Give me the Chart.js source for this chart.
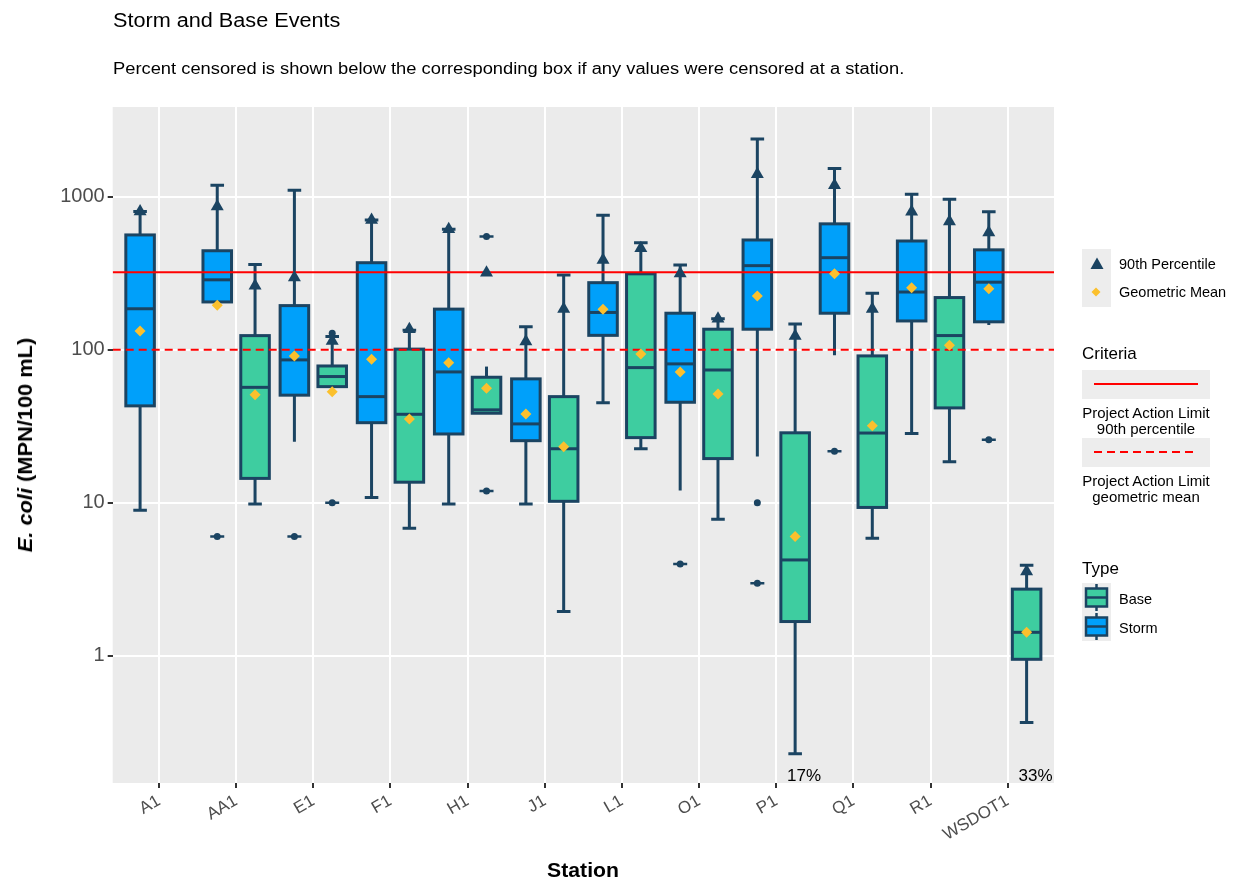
<!DOCTYPE html>
<html>
<head>
<meta charset="utf-8">
<script src="https://cdn.jsdelivr.net/npm/chart.js@4.4.0/dist/chart.umd.min.js"></script>
<style>
  body { margin: 0; background: #fff; font-family: "Liberation Sans", Arial, sans-serif; color: #000; }
  #wrap { position: relative; width: 1235px; height: 882px; overflow: hidden; }
  #chart { position: absolute; left: 0; top: 0; }
  .lbl { position: absolute; white-space: nowrap; line-height: 1; }
  .key { position: absolute; background: #EDEDED; }
  .glyphs { position: absolute; left: 0; top: 0; pointer-events: none; }
</style>
</head>
<body>
<div id="wrap">
  <canvas id="chart" width="1235" height="882"></canvas>

  <div class="lbl" style="left:113px; top:10.5px; font-size:19.5px; transform-origin:0 50%; transform:scaleX(1.11);">Storm and Base Events</div>
  <div class="lbl" style="left:113px; top:61px; font-size:16px; transform-origin:0 50%; transform:scaleX(1.145);">Percent censored is shown below the corresponding box if any values were censored at a station.</div>

  <div class="lbl" style="left:25px; top:445px; font-size:20px; font-weight:bold; transform:translate(-50%,-50%) rotate(-90deg) scaleX(1.09);"><i>E. coli</i> (MPN/100 mL)</div>
  <div class="lbl" style="left:583px; top:870px; font-size:20px; font-weight:bold; transform:translate(-50%,-50%) scaleX(1.06);">Station</div>

  <!-- legend backgrounds -->
  <div class="key" style="left:1082px; top:249px; width:29px; height:58px;"></div>
  <div class="key" style="left:1082px; top:370px; width:128px; height:29px;"></div>
  <div class="key" style="left:1082px; top:438px; width:128px; height:29px;"></div>
  <div class="key" style="left:1082px; top:583px; width:29px; height:58px;"></div>

  <!-- legend glyphs -->
  <svg class="glyphs" width="1235" height="882">
    <polygon points="1097,257.5 1103.5,269 1090.5,269" fill="#1B4462"/>
    <polygon points="1096,287.5 1100.5,292 1096,296.5 1091.5,292" fill="#FBC02D"/>
    <line x1="1094" y1="384" x2="1198" y2="384" stroke="#FF0000" stroke-width="2"/>
    <line x1="1094" y1="452" x2="1198" y2="452" stroke="#FF0000" stroke-width="2" stroke-dasharray="8,5"/>
    <g stroke="#1B4462" stroke-width="2.5">
      <line x1="1096.5" y1="584" x2="1096.5" y2="611"/>
      <rect x="1086" y="588.5" width="21" height="18" fill="#3ECDA0"/>
      <line x1="1086" y1="597.5" x2="1107" y2="597.5"/>
      <line x1="1096.5" y1="613" x2="1096.5" y2="640"/>
      <rect x="1086" y="617.5" width="21" height="18" fill="#00A0FA"/>
      <line x1="1086" y1="626.5" x2="1107" y2="626.5"/>
    </g>
  </svg>

  <div class="lbl" style="left:1119px; top:257px; font-size:14.5px;">90th Percentile</div>
  <div class="lbl" style="left:1119px; top:285px; font-size:14.5px;">Geometric Mean</div>
  <div class="lbl" style="left:1082px; top:344.5px; font-size:17px;">Criteria</div>
  <div class="lbl" style="left:1146px; top:405px; font-size:15px; line-height:16px; text-align:center; transform:translateX(-50%);">Project Action Limit<br>90th percentile</div>
  <div class="lbl" style="left:1146px; top:473px; font-size:15px; line-height:16px; text-align:center; transform:translateX(-50%);">Project Action Limit<br>geometric mean</div>
  <div class="lbl" style="left:1082px; top:559.5px; font-size:17px;">Type</div>
  <div class="lbl" style="left:1119px; top:592px; font-size:14.5px;">Base</div>
  <div class="lbl" style="left:1119px; top:621px; font-size:14.5px;">Storm</div>
</div>

<script>
var stations = ['A1', 'AA1', 'E1', 'F1', 'H1', 'J1', 'L1', 'O1', 'P1', 'Q1', 'R1', 'WSDOT1'];
var yTicks = [1, 10, 100, 1000];

// Storm events (left box at each station)
var stormLow  = [8.9, 205, 25, 10.8, 9.8, 9.8, 45, 12, 20, 92, 28.3, 145];
var stormQ1   = [42.9, 205, 50.4, 33.3, 28.1, 25.4, 124, 45.3, 136, 173, 154, 152];
var stormMed  = [185, 286, 85.7, 49.3, 71.5, 32.7, 175, 80.7, 354, 399, 238, 276];
var stormQ3   = [562, 443, 194, 370, 184, 64.4, 274, 173, 521, 664, 513, 449];
var stormHigh = [800, 1188, 1101, 705, 612, 141, 755, 358, 2383, 1525, 1037, 798];
var stormP90  = [800, 861, 296, 705, 612, 113, 385, 315, 1400, 1188, 798, 582];
var stormGeo  = [132.5, 195, 91, 86.5, 82.2, 37.9, 184, 71.5, 224, 313, 254, 250];
var stormCapLow  = [1, 0, 0, 1, 1, 1, 1, 0, 0, 0, 1, 0];
var stormCapHigh = [1, 1, 1, 1, 1, 1, 1, 1, 1, 1, 1, 1];
var stormOutliers    = [[], [6], [6], [], [], [], [], [3.97], [10, 2.97], [21.7], [], [25.8]];
var stormOutlierCaps = [[], [6], [6], [], [], [], [], [3.97], [2.97], [21.7], [], [25.8]];

// Base flow events (right box); A1 has no base samples
var baseLow  = [null, 9.8, 57.3, 6.8, 38.4, 1.94, 22.5, 7.8, 0.228, 5.85, 18.5, 0.365];
var baseQ1   = [null, 14.4, 57.3, 13.6, 38.4, 10.2, 26.6, 19.4, 1.67, 9.3, 41.6, 0.946];
var baseMed  = [null, 56.7, 66.7, 37.8, 40.4, 22.5, 76.3, 73.6, 4.22, 28.5, 123.6, 1.42];
var baseQ3   = [null, 123.5, 78.2, 100.8, 66, 49.3, 313, 136, 28.6, 91, 219, 2.72];
var baseHigh = [null, 360, 122, 134, 77.5, 308, 500, 159, 147, 234, 960, 3.9];
var baseP90  = [null, 262, 114, 136, 318, 184.5, 460, 159, 123, 184.5, 687, 3.54];
var baseGeo  = [null, 50.8, 53, 35.2, 56, 23.2, 93.7, 51.3, 6.0, 31.8, 107, 1.42];
var baseCapLow  = [0, 1, 0, 1, 0, 1, 1, 1, 1, 1, 1, 1];
var baseCapHigh = [0, 1, 1, 1, 0, 1, 1, 1, 1, 1, 1, 1];
var baseOutliers    = [[], [], [10, 128], [], [548, 11.9], [], [], [], [], [], [], []];
var baseOutlierCaps = [[], [], [10], [], [548, 11.9], [], [], [], [], [], [], []];
var baseCensored = ['', '', '', '', '', '', '', '', '17%', '', '', '33%'];

// Project action limits
var limit90 = 320;
var limitGeo = 100;

var NAVY = '#1B4462';
var STORM_FILL = '#00A0FA';
var BASE_FILL = '#3ECDA0';
var DODGE = 0.245;   // box offset from station centre, in station units
var HALF = 0.185;    // half box width
var CAP = 0.088;     // half cap width

function points(offset, storm, base) {
    var out = [];
    for (var i = 0; i < stations.length; i++) {
        if (storm[i] != null) out.push({x: i + 1 - offset, y: storm[i]});
        if (base[i] != null) out.push({x: i + 1 + offset, y: base[i]});
    }
    return out;
}

function outlierPoints(storm, base) {
    var out = [];
    for (var i = 0; i < stations.length; i++) {
        storm[i].forEach(function (v) { out.push({x: i + 1 - DODGE, y: v}); });
        base[i].forEach(function (v) { out.push({x: i + 1 + DODGE, y: v}); });
    }
    return out;
}

function drawBoxes(chart, offset, fill, low, q1, med, q3, high, capLow, capHigh) {
    var ctx = chart.ctx, xs = chart.scales.x, ys = chart.scales.y;
    ctx.save();
    ctx.strokeStyle = NAVY;
    ctx.lineWidth = 3;
    for (var i = 0; i < stations.length; i++) {
        if (q1[i] == null) continue;
        var xc = xs.getPixelForValue(i + 1 + offset);
        var xl = xs.getPixelForValue(i + 1 + offset - HALF);
        var xr = xs.getPixelForValue(i + 1 + offset + HALF);
        var cw = xs.getPixelForValue(i + 1 + offset + CAP) - xc;
        var yLow = ys.getPixelForValue(low[i]), yHigh = ys.getPixelForValue(high[i]);
        var yQ1 = ys.getPixelForValue(q1[i]), yQ3 = ys.getPixelForValue(q3[i]);
        var yMed = ys.getPixelForValue(med[i]);

        // whiskers
        ctx.beginPath();
        ctx.moveTo(xc, yLow); ctx.lineTo(xc, yQ1);
        ctx.moveTo(xc, yQ3); ctx.lineTo(xc, yHigh);
        if (capLow[i]) { ctx.moveTo(xc - cw, yLow); ctx.lineTo(xc + cw, yLow); }
        if (capHigh[i]) { ctx.moveTo(xc - cw, yHigh); ctx.lineTo(xc + cw, yHigh); }
        ctx.stroke();

        // box and median
        ctx.fillStyle = fill;
        ctx.fillRect(xl, yQ3, xr - xl, yQ1 - yQ3);
        ctx.strokeRect(xl, yQ3, xr - xl, yQ1 - yQ3);
        ctx.beginPath();
        ctx.moveTo(xl, yMed); ctx.lineTo(xr, yMed);
        ctx.stroke();
    }
    ctx.restore();
}

var boxPlot = {
    id: 'boxPlot',
    beforeDraw: function (chart) {
        var a = chart.chartArea, ctx = chart.ctx;
        ctx.save();
        ctx.fillStyle = '#EBEBEB';
        ctx.fillRect(a.left, a.top, a.right - a.left, a.bottom - a.top);
        ctx.restore();
    },
    beforeDatasetsDraw: function (chart) {
        drawBoxes(chart, -DODGE, STORM_FILL, stormLow, stormQ1, stormMed, stormQ3, stormHigh, stormCapLow, stormCapHigh);
        drawBoxes(chart, DODGE, BASE_FILL, baseLow, baseQ1, baseMed, baseQ3, baseHigh, baseCapLow, baseCapHigh);
    },
    afterDatasetsDraw: function (chart) {
        // percent censored, written under the base box
        var ctx = chart.ctx, xs = chart.scales.x;
        ctx.save();
        ctx.fillStyle = '#000';
        ctx.font = '17px "Liberation Sans", Arial, sans-serif';
        ctx.textAlign = 'center';
        ctx.textBaseline = 'alphabetic';
        baseCensored.forEach(function (txt, i) {
            if (!txt) return;
            ctx.fillText(txt, xs.getPixelForValue(i + 1 + 0.36), chart.chartArea.bottom - 2);
        });
        ctx.restore();
    }
};

new Chart(document.getElementById('chart'), {
    type: 'scatter',
    data: {
        datasets: [
            {
                type: 'line',
                data: [{x: 0.4, y: limit90}, {x: 12.6, y: limit90}],
                borderColor: '#FF0000',
                borderWidth: 2,
                pointRadius: 0,
                order: 4
            },
            {
                type: 'line',
                data: [{x: 0.4, y: limitGeo}, {x: 12.6, y: limitGeo}],
                borderColor: '#FF0000',
                borderWidth: 2,
                borderDash: [8, 5],
                pointRadius: 0,
                order: 4
            },
            {
                data: outlierPoints(stormOutlierCaps, baseOutlierCaps),
                pointStyle: 'line',
                pointRadius: 7,
                borderColor: NAVY,
                borderWidth: 2.5,
                order: 3
            },
            {
                data: outlierPoints(stormOutliers, baseOutliers),
                pointStyle: 'circle',
                pointRadius: 3.5,
                backgroundColor: NAVY,
                borderWidth: 0,
                order: 2
            },
            {
                data: points(DODGE, stormP90, baseP90),
                pointStyle: 'triangle',
                pointRadius: 7.5,
                backgroundColor: NAVY,
                borderWidth: 0,
                order: 1
            },
            {
                data: points(DODGE, stormGeo, baseGeo),
                pointStyle: 'rectRot',
                pointRadius: 5.5,
                backgroundColor: '#FBC02D',
                borderWidth: 0,
                order: 0
            }
        ]
    },
    options: {
        responsive: false,
        devicePixelRatio: 1,
        animation: false,
        layout: { padding: { top: 107, right: 181, left: 0, bottom: 0 } },
        plugins: { legend: { display: false }, tooltip: { enabled: false } },
        scales: {
            x: {
                type: 'linear',
                min: 0.4,
                max: 12.6,
                bounds: 'data',
                afterBuildTicks: function (scale) {
                    scale.ticks = stations.map(function (s, i) { return {value: i + 1}; });
                },
                afterFit: function (scale) { scale.height = 99; },
                grid: { color: '#FFFFFF', lineWidth: 2, tickLength: 5, tickColor: '#333333', tickWidth: 2 },
                border: { display: false },
                ticks: {
                    autoSkip: false,
                    minRotation: 30,
                    maxRotation: 30,
                    padding: 3,
                    color: '#4D4D4D',
                    font: { family: '"Liberation Sans", Arial, sans-serif', size: 17 },
                    callback: function (v) { return stations[Math.round(v) - 1]; }
                }
            },
            y: {
                type: 'logarithmic',
                min: 0.147,
                max: 3855,
                bounds: 'data',
                afterBuildTicks: function (scale) {
                    scale.ticks = yTicks.map(function (v) { return {value: v}; });
                },
                afterFit: function (scale) { scale.width = 112.7; },
                grid: { color: '#FFFFFF', lineWidth: 2, tickLength: 5, tickColor: '#333333', tickWidth: 2 },
                border: { display: false },
                ticks: {
                    padding: 3,
                    color: '#4D4D4D',
                    font: { family: '"Liberation Sans", Arial, sans-serif', size: 20 },
                    callback: function (v) { return String(v); }
                }
            }
        }
    },
    plugins: [boxPlot]
});
</script>
</body>
</html>
